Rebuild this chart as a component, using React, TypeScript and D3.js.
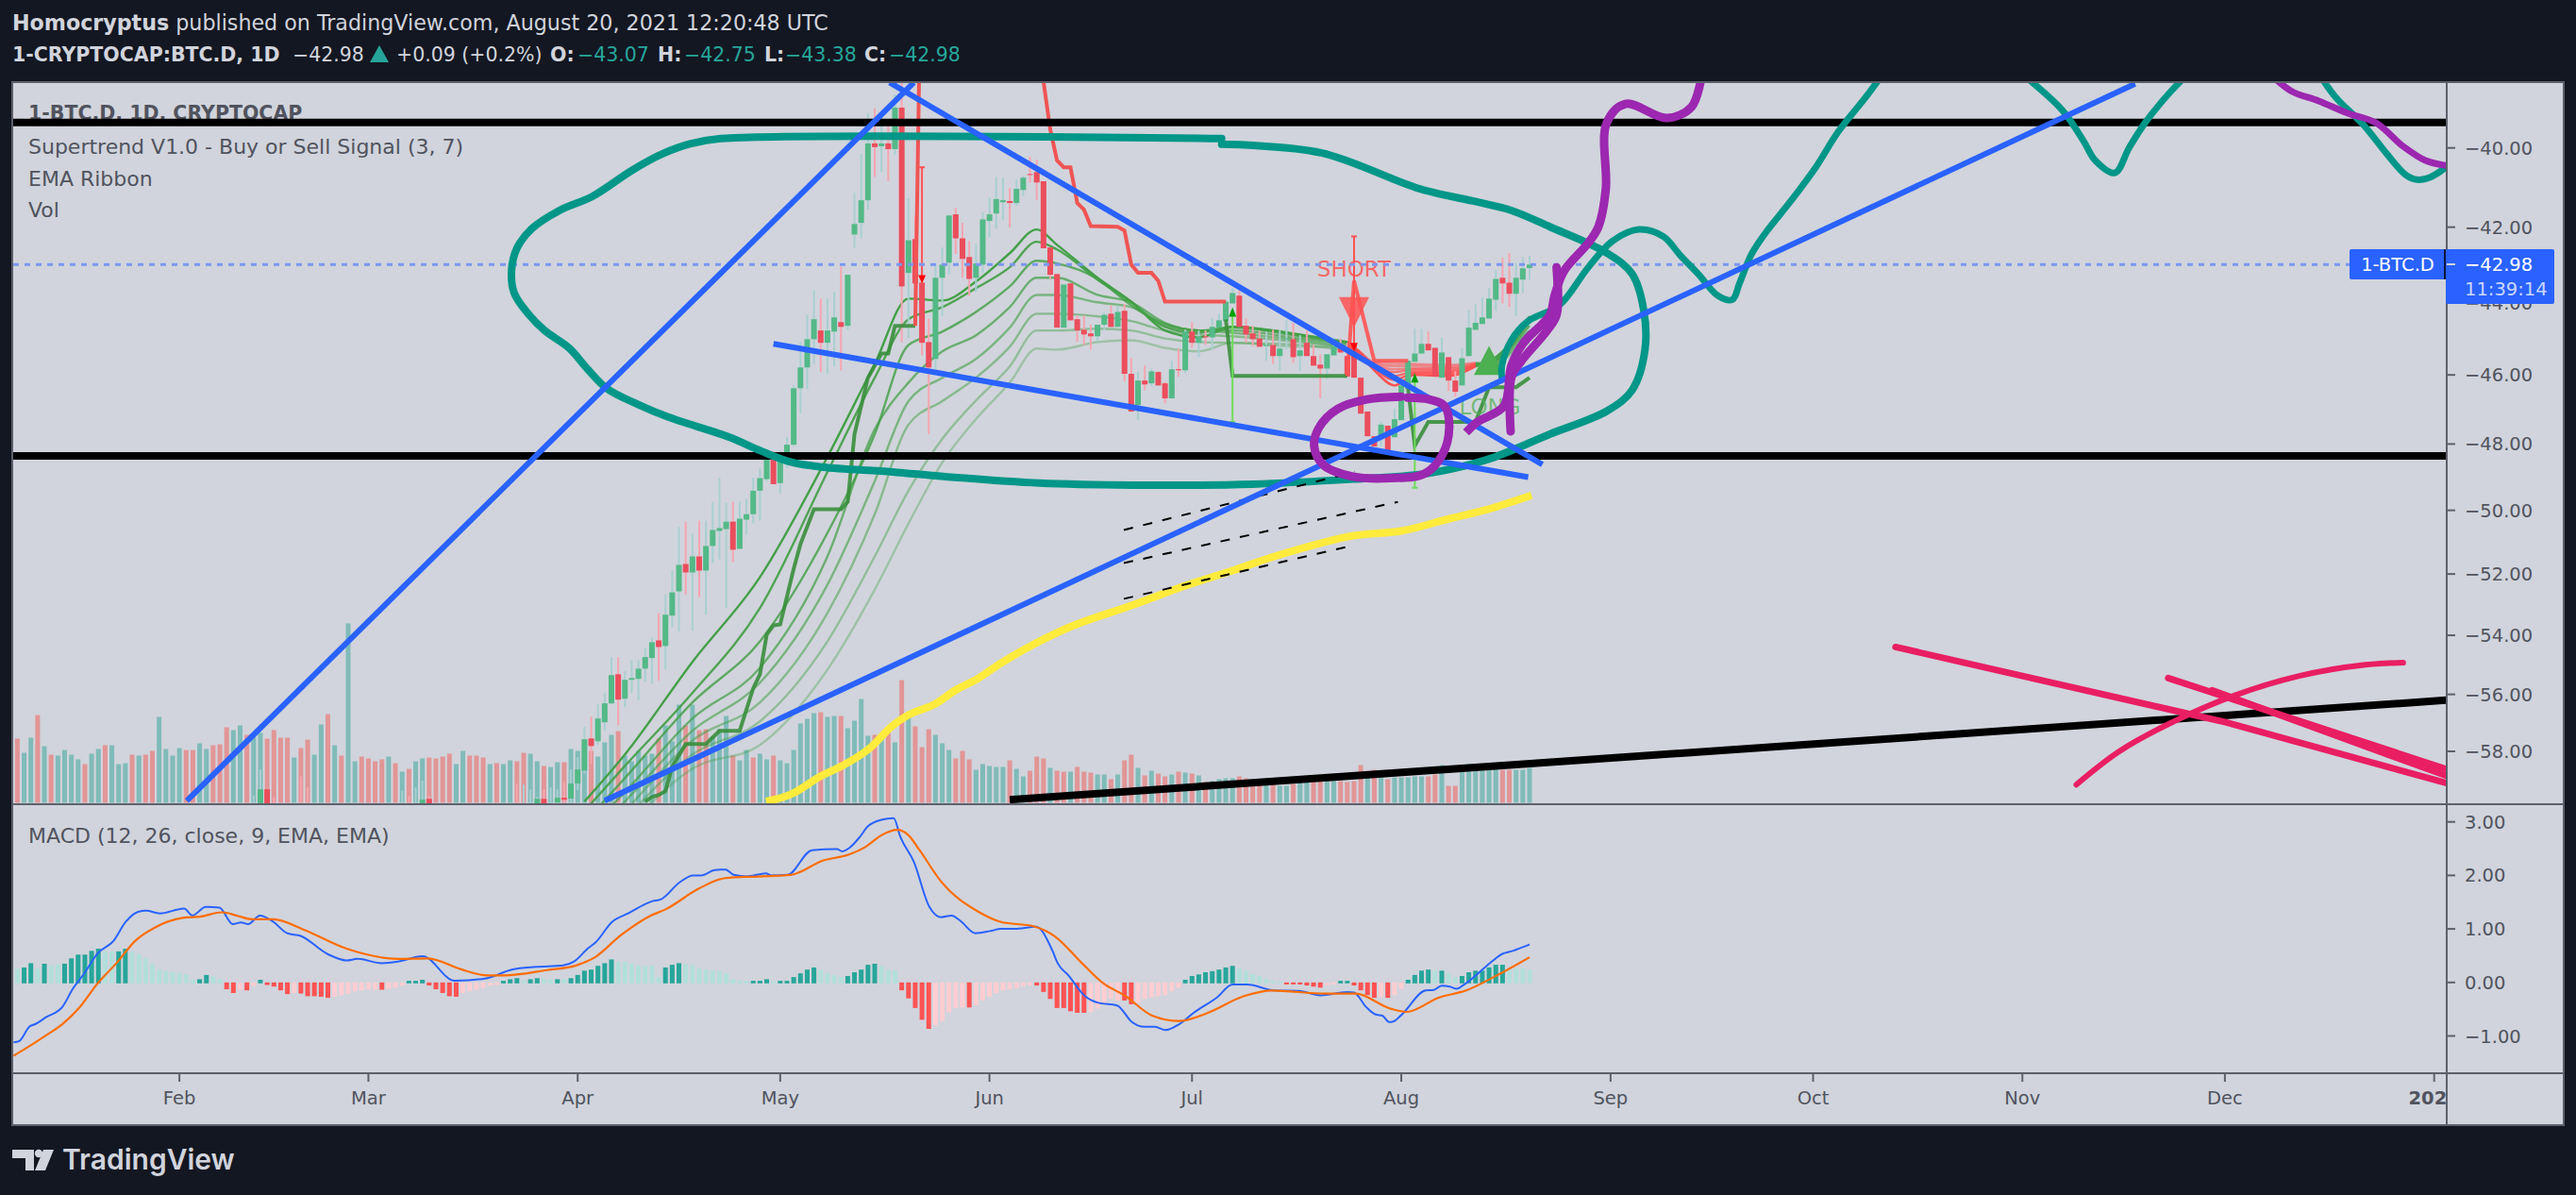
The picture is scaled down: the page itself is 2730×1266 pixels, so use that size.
import React from "react";
import * as d3 from "d3";

// ---------- Axis labels ----------
const priceTicks = [-40, -42, -44, -46, -48, -50, -52, -54, -56, -58];
const macdTicks = [3, 2, 1, 0, -1];
const monthTicks: [string, number][] = [["Feb", 24], ["Mar", 52], ["Apr", 83], ["May", 113], ["Jun", 144], ["Jul", 174], ["Aug", 205], ["Sep", 236], ["Oct", 266], ["Nov", 297], ["Dec", 327], ["2022", 358]];

// ---------- Volume (one bar per day from Jan 8) ----------
const volumes = [68,53,69,93,60,51,50,56,51,46,41,52,57,61,61,41,42,51,50,51,55,91,57,50,58,56,56,63,57,61,62,80,77,82,72,72,74,68,77,69,69,48,58,67,51,83,94,61,50,190,44,49,47,44,46,49,42,33,36,44,47,48,47,49,52,41,55,50,
50,48,41,42,41,45,44,53,52,44,39,38,43,43,57,55,45,55,49,64,72,76,50,44,55,50,52,68,82,65,104,82,104,77,78,70,78,92,50,45,56,48,52,46,50,45,42,56,84,89,95,96,91,92,92,79,87,110,71,72,72,80,64,130,95,81,59,78,72,63,56,47,55,46,35,41,39,38,38,45,36,28,34,49,47,37,34,33,33,38,33,32,30,30,25,30,45,
51,37,29,34,31,28,30,33,32,31,29,22,23,25,26,26,28,26,22,22,22,20,18,18,20,23,23,22,23,27,27,23,22,23,40,30,35,27,25,27,27,27,28,28,28,30,40,18,18,40,41,41,41,41,38,35,35,35,35,37];
const volumeSides = "RGGRGRGGGGRGGRGGGRGRRGGGGRRGGRRRGGRGGRRRR" + "GRRGGRGRGGRRRRGRGRGGRRRRGGR"
  + "RRGRGGRRGG" + "RGGRGGGRGG" + "GRGGGGGRGG" + "GRGRRGGGRG" + "GRGGRGGGGG" + "GRGGRGGGGR" + "GRGRGRRRGG" + "GRRRGGGGGR" + "GGRRRGRRGR" + "RRGGRGR"
  + "RGRGRRGRGR" + "GRGGGGRRRR" + "GRGGRGGRRG" + "GRRRRGRGRG" + "GGGGRRGRRG" + "GGGGGRRGGG";

// ---------- Candles: open, high, low, close, from day index 80 (Mar 29) ----------
const candleFirstDay = 80;
const candleOpen = [-59.85,-59.68,-59.71,-59.16,-58.69,-57.54,-57.64,-56.97,-56.31,-55.31,-56.15,-55.50,-55.47,-55.12,-54.76,-54.17,-54.36,-53.35,-52.56,-51.68,
-51.95,-51.44,-51.89,-51.11,-50.64,-50.58,-50.35,-51.20,-50.29,-50.12,-49.40,-49.05,-48.47,-49.17,-48.47,-48.02,-46.38,-45.79,-45.00,-44.76,
-45.10,-44.79,-44.53,-44.63,-42.19,-41.89,-41.31,-39.89,-39.96,-39.89,-40.03,-39.02,-43.20,-42.31,-43.46,-45.08,-45.55,-43.33,-42.93,-41.67,
-42.29,-42.78,-43.33,-42.98,-41.84,-41.65,-41.36,-41.33,-41.38,-41.05,-40.65,-40.60,-40.83,-42.53,-43.23,-44.68,-43.48,-44.45,-44.74,-44.84,
-44.92,-44.60,-44.30,-44.66,-44.22,-45.97,-46.86,-46.16,-46.24,-45.92,-46.24,-46.67,-45.84,-45.87,-44.79,-45.10,-44.92,-44.95,-44.68,-44.50,
-44.02,-43.81,-44.63,-44.84,-44.98,-45.19,-45.16,-45.47,-45.00,-45.00,-45.47,-45.10,-45.47,-45.71,-45.82,-45.45,-45.26,-45.47,-45.16,-46.08,
-47.05,-47.77,-47.85,-47.46,-47.80,-47.30,-46.40,-45.63,-45.40,-45.13,-45.24,-46.08,-45.50,-46.16,-46.30,-45.47,-44.74,-44.58,-44.43,-43.92,
-43.33,-43.46,-43.76,-43.38,-43.07];
const candleHigh = [-59.37,-59.10,-58.65,-58.21,-57.13,-56.77,-56.34,-55.95,-54.73,-54.73,-55.21,-54.83,-54.83,-54.42,-54.07,-53.26,-52.65,-51.89,-50.52,-50.35,
-50.73,-50.32,-50.32,-49.74,-49.02,-49.77,-49.74,-49.74,-49.65,-49.00,-48.72,-48.21,-48.21,-48.21,-47.80,-46.30,-45.08,-44.33,-43.66,-43.89,
-43.89,-43.71,-43.03,-43.25,-41.12,-40.15,-39.15,-39.04,-39.27,-39.47,-38.70,-38.40,-41.26,-41.72,-43.46,-44.43,-42.98,-42.53,-41.70,-41.50,
-41.89,-42.36,-42.43,-41.62,-41.24,-40.72,-40.74,-41.00,-40.79,-40.69,-40.22,-40.29,-40.83,-42.53,-43.23,-43.51,-43.48,-44.35,-44.35,-44.60,
-44.60,-44.27,-44.07,-44.07,-44.04,-45.53,-45.92,-45.74,-45.82,-45.90,-46.19,-45.60,-45.26,-44.74,-44.53,-44.76,-44.76,-44.43,-44.30,-43.92,
-43.61,-43.66,-44.43,-44.63,-44.76,-44.79,-44.74,-44.76,-44.48,-44.55,-44.89,-44.76,-45.16,-45.42,-45.42,-44.95,-44.98,-45.10,-45.16,-46.08,
-47.05,-47.77,-47.35,-47.46,-46.97,-46.30,-45.55,-44.71,-44.71,-44.79,-45.24,-44.95,-45.50,-45.90,-45.26,-44.20,-44.04,-43.87,-43.61,-43.13,
-42.80,-42.68,-42.93,-42.78,-42.75];
const candleLow = [-59.90,-59.85,-59.90,-59.40,-58.79,-58.45,-57.77,-57.27,-56.34,-57.07,-56.44,-55.95,-56.21,-55.57,-55.63,-55.53,-55.15,-53.73,-53.88,-52.65,
-53.85,-52.74,-53.32,-51.65,-51.53,-53.10,-51.62,-51.20,-50.76,-50.41,-50.32,-49.11,-49.20,-49.48,-48.72,-48.07,-47.11,-46.40,-45.69,-45.92,
-45.97,-45.76,-45.87,-44.74,-42.55,-42.29,-41.55,-40.72,-40.60,-40.83,-40.17,-45.08,-44.98,-44.37,-45.45,-47.71,-45.84,-44.37,-43.25,-42.70,
-43.33,-43.81,-43.71,-43.20,-42.26,-42.04,-41.82,-42.01,-41.45,-41.21,-40.86,-41.31,-42.55,-43.36,-44.68,-44.68,-44.48,-45.08,-45.16,-45.29,
-45.05,-44.76,-44.66,-44.66,-46.19,-47.05,-47.30,-46.43,-46.32,-46.30,-46.81,-46.67,-46.05,-45.95,-45.24,-45.50,-45.16,-45.29,-44.68,-44.50,
-44.02,-44.66,-45.10,-45.19,-45.21,-45.60,-45.69,-45.87,-45.29,-45.66,-45.90,-45.47,-45.74,-46.67,-46.11,-45.45,-45.37,-46.05,-46.08,-47.11,
-47.77,-48.07,-48.07,-48.19,-47.80,-47.30,-46.40,-45.63,-45.40,-45.31,-46.05,-46.08,-46.46,-46.62,-46.30,-45.47,-44.74,-44.58,-44.43,-44.22,
-44.02,-44.12,-44.37,-43.74,-43.38];
const candleClose = [-59.68,-59.75,-59.16,-58.65,-57.57,-57.81,-56.84,-56.31,-55.34,-56.18,-55.50,-55.44,-55.12,-54.73,-54.23,-54.39,-53.32,-52.59,-51.71,-51.95,
-51.44,-51.89,-51.11,-50.61,-50.55,-50.35,-51.23,-50.26,-50.12,-49.40,-49.02,-48.47,-49.20,-48.47,-48.02,-46.38,-45.79,-45.00,-44.45,-45.10,
-44.76,-44.40,-44.66,-43.25,-41.92,-41.31,-39.89,-39.98,-39.89,-40.03,-39.02,-43.56,-42.34,-43.48,-45.10,-45.79,-43.33,-42.98,-41.70,-42.29,
-42.83,-43.36,-42.95,-41.80,-41.67,-41.28,-41.31,-41.38,-41.02,-40.74,-40.67,-40.86,-42.55,-43.25,-44.68,-43.51,-44.48,-44.76,-44.87,-44.92,
-44.60,-44.33,-44.66,-44.25,-45.97,-47.05,-46.16,-46.27,-45.90,-46.30,-46.67,-45.84,-45.87,-44.79,-45.10,-44.92,-44.95,-44.66,-44.48,-43.97,
-43.74,-44.66,-44.87,-45.00,-45.21,-45.16,-45.47,-45.26,-44.98,-45.50,-45.31,-45.47,-45.74,-45.82,-45.42,-45.19,-45.37,-46.05,-46.08,-47.11,
-47.77,-48.07,-47.43,-48.19,-47.27,-46.30,-45.60,-45.40,-45.13,-45.31,-46.05,-45.37,-46.16,-46.48,-45.53,-44.68,-44.55,-44.40,-43.89,-43.36,
-43.48,-43.76,-43.33,-43.08,-42.98];

// Candles that sit below the pane, only their top edge or wick showing
const earlyDays = [35,36,37,38,42,43,57,58,59,60,61,74,75,76,77,78,79];
const earlySides = "GGRRRRGRGGRRGGGRG";
const earlyHigh = [-59.60,-58.65,-59.37,-59.65,-58.90,-59.30,-59.42,-59.62,-59.30,-59.05,-59.62,-59.16,-59.20,-59.37,-59.65,-59.37,-59.30];
const earlyTop = [-61,-59.37,-59.37,-61,-61,-61,-61,-61,-61,-59.75,-59.72,-61,-61,-61,-59.72,-59.72,-61];

// ---------- EMA ribbon, sampled on ribbonDays ----------
const ribbonDays = [84,90,100,110,120,127,132,137,142,147,151,154,160,165,170,175,180,190,197,198,201,204,207,212,216,219,222,224];
const ribbon1 = [-59.82,-58.11,-54.89,-52.10,-48.38,-45.69,-43.89,-43.94,-43.43,-42.68,-42.06,-42.46,-43.33,-43.97,-44.76,-44.95,-44.66,-44.87,-45.08,-45.24,-45.87,-46.30,-46.00,-46.03,-45.76,-45.50,-44.92,-44.37];
const ribbon2 = [-60.17,-58.52,-55.95,-53.10,-48.83,-46.08,-44.45,-44.12,-43.61,-43.05,-42.38,-42.58,-43.38,-43.99,-44.66,-44.82,-44.66,-44.89,-45.08,-45.24,-45.82,-46.14,-45.95,-45.97,-45.74,-45.55,-44.98,-44.50];
const ribbon3 = [-60.60,-58.96,-56.28,-54.20,-50.70,-47.71,-45.16,-44.79,-44.25,-43.56,-42.88,-42.95,-43.36,-44.07,-44.58,-44.76,-44.68,-44.92,-45.10,-45.24,-45.76,-46.03,-45.90,-45.92,-45.71,-45.58,-45.03,-44.63];
const ribbon4 = [-61.00,-59.47,-56.84,-55.09,-51.44,-47.57,-46.22,-45.34,-44.89,-44.12,-43.33,-43.33,-43.79,-43.99,-44.55,-44.76,-44.76,-44.98,-45.13,-45.24,-45.74,-45.92,-45.84,-45.87,-45.71,-45.60,-45.08,-44.76];
const ribbon5 = [-61.40,-59.82,-57.27,-55.60,-52.34,-49.11,-46.75,-46.08,-45.55,-44.68,-43.79,-43.79,-43.99,-44.12,-44.63,-44.76,-44.82,-45.03,-45.19,-45.24,-45.71,-45.84,-45.82,-45.82,-45.69,-45.63,-45.13,-44.87];
const ribbon6 = [-61.70,-60.17,-57.61,-56.28,-53.26,-50.12,-47.43,-46.75,-46.08,-45.21,-44.30,-44.30,-44.37,-44.50,-44.76,-44.87,-44.92,-45.08,-45.24,-45.26,-45.69,-45.76,-45.76,-45.79,-45.69,-45.66,-45.19,-44.95];
const ribbon7 = [-62.30,-60.50,-58.11,-56.94,-54.20,-51.44,-49.40,-47.85,-46.73,-45.76,-44.76,-44.76,-44.71,-44.76,-44.98,-45.08,-45.10,-45.16,-45.31,-45.26,-45.66,-45.71,-45.71,-45.74,-45.66,-45.69,-45.24,-45.03];
const ribbon8 = [-62.80,-60.90,-58.62,-57.77,-55.15,-52.50,-50.41,-48.55,-47.27,-46.22,-45.26,-45.29,-45.08,-45.03,-45.24,-45.34,-45.10,-45.21,-45.21,-45.29,-45.63,-45.66,-45.69,-45.71,-45.66,-45.71,-45.29,-45.10];

// ---------- Supertrend ----------
const stGreenADays = [93,94,95,96,97,99,102,104,107,109,110,111,112,113,115,116,118,122,123,124,126,128,129,130,133];
const stGreenAPrices = [-59.82,-59.65,-59.58,-59.44,-58.55,-57.74,-57.74,-57.27,-57.27,-55.79,-55.31,-53.98,-53.67,-53.64,-51.83,-51.05,-49.97,-49.97,-49.74,-47.71,-46.08,-45.40,-45.40,-44.63,-44.63];
const stRedADays = [133,133.6,150,152,153,154,155,156,157,158,159,163,164,165,166,168,169,170,179];
const stRedAPrices = [-44.63,-38.0,-36,-38.40,-39.55,-40.31,-40.48,-40.48,-41.38,-41.55,-41.97,-41.99,-42.09,-42.98,-43.20,-43.20,-43.41,-43.97,-43.97];
const stGreenBDays = [179,180,197];
const stGreenBPrices = [-44.46,-46.03,-46.03];
const stRedBDays = [197,198,201,206];
const stRedBPrices = [-46.03,-43.41,-45.60,-45.60];
const stGreenCDays = [206,207,209,216,218,222,224];
const stGreenCPrices = [-46.38,-48.05,-47.35,-47.35,-46.35,-46.35,-46.08];

// Supertrend signals
const signalRedDays = [134,198];
const signalRedTop = [-40.48,-42.24];
const signalRedBottom = [-43.36,-45.21];
const signalGreenDays = [180,207];
const signalGreenTop = [-44.25,-46.08];
const signalGreenBottom = [-47.35,-49.31];

// ---------- MACD ----------
const macdHist = [.26,.28,.36,.26,.35,.32,.34,.35,.45,.52,.52,.59,.63,.58,.58,.58,.63,.57,.53,.45,.35,.24,.21,.20,.18,.15,.05,.06,.14,.11,.06,-.11,-.18,-.12,-.13,-.05,.05,-.03,-.06,-.13,-.20,-.18,-.19,-.24,-.24,-.25,-.27,-.25,-.22,-.20,-.15,-.13,-.11,-.12,-.12,-.10,-.08,-.04,.03,.03,.05,-.04,-.11,-.18,-.24,-.25,-.18,-.15,-.12,-.09,-.04,-.03,.03,.06,.08,.03,.06,.08,.06,.06,.06,.06,.08,.14,.22,.24,.31,.36,.43,.39,.38,.35,.32,.31,.31,.10,.28,.33,.36,.35,.33,.26,.24,.22,.21,.17,.06,.03,.03,.03,.03,.06,.02,.03,.03,.10,.17,.24,.28,.24,.17,.14,.10,.12,.19,.24,.33,.35,.31,.24,.22,-.13,-.28,-.46,-.68,-.85,-.78,-.70,-.54,-.46,-.45,-.45,-.41,-.32,-.25,-.18,-.13,-.11,-.09,-.06,-.04,-.04,-.16,-.29,-.46,-.46,-.52,-.55,-.55,-.54,-.47,-.38,-.29,-.32,-.32,-.39,-.36,-.29,-.26,-.24,-.22,-.15,-.08,.05,.12,.15,.19,.21,.24,.28,.31,.26,.21,.15,.12,.06,.03,.02,-.02,-.02,-.02,-.04,-.06,-.08,-.04,-.02,.03,.03,-.04,-.13,-.22,-.27,-.25,-.27,-.22,-.10,.05,.14,.22,.24,.22,.22,.17,.10,.12,.19,.22,.22,.28,.33,.33,.26,.26,.26,.24];
const macdHistKinds = ["pggpgppg","ggggg","pp","gg","pppppppppp","gg","pp","rrsrsg","rrrr","s","rrrrr","sssssss","r","sss","ggg","rrrrr","ssssss","ggg","p","gg","pp","g","p","ggggggg","ppppppp","ggg","pppppppppp","ggg","p","gggggg","pppp","ggggg","ppp","rrrrr","sssss","r","sssssssss","rrrrrrrr","sssss","rr","sssssss","gggggggg","ppppppp","rrrrrr","ss","gg","rrrr","s","r","ss","gggg","p","g","pp","ggggggg","pppp"].join("");
const macdLineDays = [-.56,.24,1.84,2.64,4.25,6.65,8.26,9.86,11.87,14.27,16.04,17.89,19.09,21.09,24.7,25.91,27.91,29.92,31.92,33.13,34.17,35.94,37.94,39.95,41.95,45.96,48.77,50.37,54,56.39,60,64.81,69.22,73.24,76.85,80.86,82.46,84.47,85.67,88.08,90.48,94.1,95.3,98.1,100.1,101.3,103.3,104.9,106.1,108.1,110.9,111.7,114.1,117.7,121.4,122.2,123.2,124.8,126,128,129.8,130.8,132.8,135.1,136.8,138.4,139.6,141.9,144.1,145.7,147.7,150.9,153.3,154.1,155.7,158.1,160.1,162.9,165.1,166.9,168.5,170.1,172.1,174.1,177.7,180,182.2,186.2,189.8,193,197,198,199.8,201.2,202.2,203.2,203.8,205,208.6,209.8,211,212.2,213.2,214.2,218.7,219.9,221.5,224];
const macdLineValues = [-1.12,-1.10,-.82,-.78,-.65,-.46,-.11,.16,.54,.78,1.13,1.32,1.34,1.29,1.38,1.25,1.41,1.40,1.09,1.12,1.09,1.25,1.13,.92,.87,.53,.41,.44,.36,.39,.49,.03,.07,.24,.29,.32,.39,.63,.75,1.13,1.29,1.52,1.55,1.87,2.00,2.00,2.10,2.11,2.01,1.98,2.04,2.00,2.01,2.47,2.49,2.45,2.51,2.72,2.92,3.04,3.07,2.72,2.25,1.41,1.22,1.25,1.16,.92,.96,1.00,1.00,1.04,.60,.36,.13,-.25,-.38,-.43,-.74,-.83,-.83,-.89,-.78,-.58,-.28,-.04,-.04,-.15,-.16,-.24,-.18,-.19,-.46,-.60,-.62,-.74,-.73,-.61,-.15,-.14,-.06,-.08,-.12,-.05,.42,.53,.59,.71];
const signalLineDays = [-.56,1.04,4.25,6.65,9.06,11.87,14.68,17.48,20.29,24.7,27.11,30.32,32.73,34.73,37.94,42.35,48.77,56.39,60.8,65.62,69.63,72.03,78.45,82.86,85.67,89.28,93.69,96.1,100.9,104.9,109.7,114.6,119.4,123.2,125.6,128,130.3,132,133.6,136.8,142.5,145.7,150.5,153.7,157.7,160.9,164.1,168.1,172.1,176.1,181.8,185.8,193.8,198.2,203.4,205.8,210.6,214.6,218.7,224];
const signalLineValues = [-1.37,-1.25,-.99,-.78,-.49,-.02,.36,.78,1.02,1.21,1.23,1.31,1.24,1.18,1.18,.99,.63,.44,.45,.25,.13,.13,.23,.32,.48,.87,1.24,1.37,1.75,1.95,1.98,2.01,2.28,2.39,2.53,2.75,2.85,2.75,2.48,1.89,1.31,1.13,1.05,.86,.36,-.02,-.25,-.62,-.72,-.58,-.25,-.15,-.21,-.21,-.49,-.55,-.28,-.15,.10,.47];

// ---------- Hand drawings, in day index and price ----------
const blueLines: [number, number, number, number][] = [
  [25.1,-59.79,132.8,-38.42],[129.2,-38.42,225.9,-48.61],[112,-45.13,223.8,-48.99],[87,-59.79,313.7,-38.45],
];
const blackSlope = [147,-59.75,359.8,-56.2];
const blackLevels = [-39.38,-48.35];
const yellowDays = [110.9,114.7,119,122.2,126,129.6,132.1,135.9,139,142.2,145.8,150.9,156.5,165.1,173.5,180,187.1,197.8,205,212.1,217.8,224.3];
const yellowPrices = [-59.82,-59.54,-58.89,-58.52,-57.94,-57.1,-56.7,-56.34,-55.85,-55.47,-54.92,-54.26,-53.67,-53.01,-52.34,-51.89,-51.38,-50.79,-50.64,-50.26,-49.97,-49.54];
const dashLines: [number, number, number, number][] = [
  [163.9,-50.61,198.1,-48.83],[163.9,-51.65,204.5,-49.74],[163.9,-52.8,198.1,-51.08],
];
const tealLoopDays = [178.4,104.3,99.9,95.5,91.1,85.2,80.3,76.2,74,73.2,73.6,75.8,78.1,81.7,84.4,87.4,91.9,96.4,105.5,110.2,114.8,119.4,129.6,137.2,151.4,165.1,182.9,197.8,208.4,217.6,227,235.5,239.2,241.1,240.9,239.2,235.5,227,221.3,215.6,207.7,193.1,178.4];
const tealLoopPrices = [-39.77,-39.77,-39.89,-40.15,-40.55,-41.21,-41.57,-42.04,-42.55,-43.15,-43.74,-44.33,-44.76,-45.24,-45.82,-46.4,-46.84,-47.21,-47.8,-48.21,-48.55,-48.69,-48.83,-48.97,-49.17,-49.23,-49.2,-49.05,-48.89,-48.47,-47.71,-47.03,-46.43,-45.29,-44.19,-43.23,-42.68,-41.99,-41.57,-41.33,-41.02,-40.12,-39.91];
const tealTwoDays = [219.9,219.9,221.3,223.8,228.4,232.7,236.3,240.2,243.8,246.3,249,251.9,254,255.1,256.8,258.9,262.7,266.4,269.7,273.8,276.2];
const tealTwoPrices = [-46.08,-45.74,-45.03,-44.5,-44.07,-43.05,-42.36,-42.06,-42.24,-42.73,-43.23,-43.81,-43.92,-43.48,-42.73,-42.16,-41.33,-40.48,-39.61,-38.77,-38.25];
const tealThreeDays = [297.2,302.9,306.1,307.8,310.7,312.8,315.2,319,321.6];
const tealThreePrices = [-38.25,-39.08,-39.84,-40.31,-40.62,-40,-39.38,-38.63,-38.21];
const tealFourDays = [340.9,343.4,347.6,351,353.8,355.5,357.5,359.6];
const tealFourPrices = [-38.21,-38.77,-39.45,-40.15,-40.67,-40.79,-40.72,-40.5];
const purpleADays = [249.5,248,244.3,238.2,235.4,235.3,234.2,232.7,229.1,227.7,227,223.1,221.3,220.2,216.3,214.6];
const purpleAPrices = [-38.25,-39,-39.27,-38.93,-39.4,-41.02,-41.99,-42.41,-43.15,-43.81,-44.33,-45.1,-45.74,-46.89,-47.35,-47.66];
const purpleBDays = [228,228,226.6,222.7,221.3,221.2];
const purpleBPrices = [-43.05,-44.33,-44.76,-45.63,-46.08,-47.63];
const purpleCircleDays = [205,199.9,195.6,192.8,192.1,193.5,197.8,203.4,208.4,211,212.1,211.4,209.1,205.9];
const purpleCirclePrices = [-46.62,-46.7,-46.97,-47.52,-48.07,-48.63,-48.97,-49.02,-48.89,-48.35,-47.52,-46.89,-46.7,-46.65];
const purpleRightDays = [333.9,336.9,340.9,345.1,349.3,353.4,356.7,359.6];
const purpleRightPrices = [-38.25,-38.63,-38.86,-39.15,-39.38,-39.96,-40.31,-40.43];
const pinkADays = [278.2,327.1,359.6];
const pinkAPrices = [-54.39,-56.97,-59.13];
const pinkBDays = [318.6,359.6];
const pinkBPrices = [-55.44,-58.62];
const pinkCDays = [325.1,359.6];
const pinkCPrices = [-55.86,-58.86];
const pinkArcDays = [305,311.3,318.6,328.3,338,347.8,353.4];
const pinkArcPrices = [-59.2,-58.01,-57.04,-56.05,-55.37,-54.99,-54.92];

// ---------- Scales ----------
const x = d3.scaleLinear().domain([0, 224]).range([18.4, 1621]);
const y = d3.scaleLog().domain([-40, -58]).range([156.7, 796]);
const vol = d3.scaleLinear().domain([0, 190]).range([850.5, 660.5]);
const macd = d3.scaleLinear().domain([-1, 3]).range([1097.5, 870.7]);

const UP = "#53b987", DOWN = "#eb4d5c", UPW = "#a9cfd1", DOWNW = "#f5a5b0";
const TEAL = "#009688", PURPLE = "#9c27b0", BLUE = "#2962ff", PINK = "#e91e63";
const AXIS = "#5d606b", LABEL = "#50535e";
const FONT = "'DejaVu Sans', sans-serif";

const pt = (d: number, p: number) => [x(d), y(p)] as [number, number];
const free = d3.line().curve(d3.curveCatmullRom.alpha(0.5));
const straight = d3.line();
const path = (days: number[], prices: number[], g = free) => g(days.map((d, i) => pt(d, prices[i]))) as string;
const mono = d3.line().curve(d3.curveMonotoneX);
const mpath = (days: number[], vals: number[]) => mono(days.map((d, i) => [x(d), macd(vals[i])] as [number, number])) as string;

const ribbons = [ribbon1, ribbon2, ribbon3, ribbon4, ribbon5, ribbon6, ribbon7, ribbon8];
const ribbonAlpha = [1, 0.92, 0.82, 0.72, 0.62, 0.52, 0.44, 0.36];
const histColor: Record<string, string> = { g: "#26a69a", p: "#b2dfdb", r: "#ff5252", s: "#ffcdd2" };

function Candle({ d, o, h, l, c }: { d: number; o: number; h: number; l: number; c: number }) {
  const up = c >= o;
  const top = y(Math.max(o, c)), bot = y(Math.min(o, c));
  return (
    <g>
      <rect x={x(d) - 1} y={y(h)} width={2} height={Math.max(0, y(l) - y(h))} fill={up ? UPW : DOWNW} />
      <rect x={x(d) - 3} y={top} width={6} height={Math.max(1, bot - top)} fill={up ? UP : DOWN} />
    </g>
  );
}

export default function App() {
  const headerRest: [string, number, string, boolean][] = [
    ["\u221242.98", 310, "#d1d4dc", false], ["+0.09 (+0.2%)", 420, "#d1d4dc", false],
    ["O:", 583, "#d1d4dc", true], ["\u221243.07", 612, "#26a69a", false],
    ["H:", 697, "#d1d4dc", true], ["\u221242.75", 725, "#26a69a", false],
    ["L:", 810, "#d1d4dc", true], ["\u221243.38", 832, "#26a69a", false],
    ["C:", 916, "#d1d4dc", true], ["\u221242.98", 942, "#26a69a", false],
  ];
  return (
    <svg width={2730} height={1266} style={{ position: "absolute", left: 0, top: 0, display: "block" }} fontFamily={FONT}>
      <defs>
        <clipPath id="pane"><rect x={14} y={88} width={2578} height={763} /></clipPath>
        <clipPath id="timeaxis"><rect x={14} y={1138} width={2578} height={54} /></clipPath>
      </defs>
      <rect width={2730} height={1266} fill="#131722" />
      <rect x={13} y={87} width={2704} height={1105} fill="#d1d4dc" stroke={AXIS} strokeWidth={2} />
      <line x1={13} x2={2717} y1={852} y2={852} stroke={AXIS} strokeWidth={2} />
      <line x1={13} x2={2717} y1={1137} y2={1137} stroke={AXIS} strokeWidth={2} />
      <line x1={2593} x2={2593} y1={87} y2={1192} stroke={AXIS} strokeWidth={2} />

      {/* header */}
      <text x={13} y={32} fontSize={22.2} fill="#d1d4dc"><tspan fontWeight="bold">Homocryptus</tspan> published on TradingView.com, August 20, 2021 12:20:48 UTC</text>
      <text x={13} y={65} fontSize={20.5} fontWeight="bold" fill="#d1d4dc">1-CRYPTOCAP:BTC.D, 1D</text>
      {headerRest.map(([t, px, col, b], i) => (
        <text key={i} x={px} y={65} fontSize={20.5} fill={col} fontWeight={b ? "bold" : "normal"}>{t}</text>
      ))}
      <polygon points="402,48 392,66 412,66" fill="#26a69a" />

      <g clipPath="url(#pane)">
        {/* volume */}
        {volumes.map((v, i) => (
          <rect key={i} x={x(i) - 2.5} y={vol(v)} width={5} height={vol(0) - vol(v)} fill={volumeSides[i] === "G" ? "#7fbbb9" : "#e29596"} />
        ))}
        {/* ribbon */}
        {ribbons.map((r, k) => {
          const pts = ribbonDays.map((d, i) => pt(d, r[i]));
          return (
            <g key={k} fill="none" strokeWidth={2.4} strokeOpacity={ribbonAlpha[k]}>
              <path d={mono(pts.slice(0, 19)) as string} stroke="#43a047" />
              <path d={mono(pts.slice(18, 25)) as string} stroke="#ff5252" />
              <path d={mono(pts.slice(24)) as string} stroke="#43a047" />
            </g>
          );
        })}
        {/* candles */}
        {earlyDays.map((d, i) => {
          const up = earlySides[i] === "G";
          return (
            <g key={d}>
              <rect x={x(d) - 1} y={y(earlyHigh[i])} width={2} height={860 - y(earlyHigh[i])} fill={up ? UPW : DOWNW} />
              <rect x={x(d) - 3} y={y(earlyTop[i])} width={6} height={860 - y(earlyTop[i])} fill={up ? UP : DOWN} />
            </g>
          );
        })}
        {candleOpen.map((o, i) => (
          <Candle key={i} d={candleFirstDay + i} o={o} h={candleHigh[i]} l={candleLow[i]} c={candleClose[i]} />
        ))}
        {/* supertrend */}
        <g fill="none" strokeWidth={4}>
          <path d={path(stGreenADays, stGreenAPrices, straight)} stroke="#388e3c" strokeOpacity={0.9} />
          <path d={path(stRedADays, stRedAPrices, straight)} stroke="#f05454" />
          <path d={path(stGreenBDays, stGreenBPrices, straight)} stroke="#388e3c" strokeOpacity={0.9} />
          <path d={path(stRedBDays, stRedBPrices, straight)} stroke="#ff5252" strokeOpacity={0.9} />
          <path d={path(stGreenCDays, stGreenCPrices, straight)} stroke="#388e3c" strokeOpacity={0.9} />
        </g>
        {signalRedDays.map((d, i) => (
          <g key={d} stroke="#ff5252" strokeWidth={2}>
            <line x1={x(d)} x2={x(d)} y1={y(signalRedTop[i])} y2={y(signalRedBottom[i])} />
            <line x1={x(d) - 3} x2={x(d) + 3} y1={y(signalRedTop[i])} y2={y(signalRedTop[i])} />
            <polygon points={`${x(d) - 4},${y(signalRedBottom[i]) - 4} ${x(d) + 4},${y(signalRedBottom[i]) - 4} ${x(d)},${y(signalRedBottom[i]) + 5}`} fill="#ff0000" stroke="none" />
          </g>
        ))}
        {signalGreenDays.map((d, i) => (
          <g key={d} stroke="#6fdc5a" strokeWidth={2}>
            <line x1={x(d)} x2={x(d)} y1={y(signalGreenTop[i])} y2={y(signalGreenBottom[i])} />
            <line x1={x(d) - 3} x2={x(d) + 3} y1={y(signalGreenBottom[i])} y2={y(signalGreenBottom[i])} />
            <polygon points={`${x(d) - 4},${y(signalGreenTop[i]) + 5} ${x(d) + 4},${y(signalGreenTop[i]) + 5} ${x(d)},${y(signalGreenTop[i]) - 5}`} fill="#00a000" stroke="none" />
          </g>
        ))}
        <polygon points={`${x(198) - 16},${y(-43.85)} ${x(198) + 16},${y(-43.85)} ${x(198)},${y(-44.68)}`} fill="#ff5252" fillOpacity={0.85} />
        <text x={x(198)} y={y(-43.3)} textAnchor="middle" fontSize={23} fill="#ff5252" fillOpacity={0.85}>SHORT</text>
        <polygon points={`${x(218)},${y(-45.19)} ${x(218) - 16},${y(-46)} ${x(218) + 16},${y(-46)}`} fill="#4caf50" />
        <text x={1579} y={y(-47.12)} textAnchor="middle" fontSize={23} fill="#4caf50" fillOpacity={0.7}>LONG</text>
        {/* last price */}
        <line x1={14} x2={2490} y1={y(-42.98)} y2={y(-42.98)} stroke="#7b96ee" strokeWidth={3} strokeDasharray="6 6" />
      </g>

      {/* legend */}
      <g fontSize={22} fill={LABEL}>
        <text x={30} y={127} fontSize={20.5} fontWeight="bold">1-BTC.D, 1D, CRYPTOCAP</text>
        <text x={30} y={163}>Supertrend V1.0 - Buy or Sell Signal (3, 7)</text>
        <text x={30} y={197}>EMA Ribbon</text>
        <text x={30} y={230}>Vol</text>
        <text x={30} y={893}>MACD (12, 26, close, 9, EMA, EMA)</text>
      </g>

      {/* drawings */}
      <g clipPath="url(#pane)" fill="none" strokeLinecap="round">
        {blackLevels.map((p) => <line key={p} x1={14} x2={2592} y1={y(p)} y2={y(p)} stroke="#000" strokeWidth={8} strokeLinecap="butt" />)}
        <line x1={x(blackSlope[0])} y1={y(blackSlope[1])} x2={x(blackSlope[2])} y2={y(blackSlope[3])} stroke="#000" strokeWidth={8} strokeLinecap="butt" />
        <path d={path(tealLoopDays, tealLoopPrices)} stroke={TEAL} strokeWidth={8} />
        <path d={path(tealTwoDays, tealTwoPrices)} stroke={TEAL} strokeWidth={7} />
        <path d={path(tealThreeDays, tealThreePrices)} stroke={TEAL} strokeWidth={7} />
        <path d={path(tealFourDays, tealFourPrices)} stroke={TEAL} strokeWidth={7} />
        <path d={path(yellowDays, yellowPrices)} stroke="#ffeb3b" strokeWidth={8} strokeLinecap="butt" />
        {dashLines.map((l, i) => (
          <line key={i} x1={x(l[0])} y1={y(l[1])} x2={x(l[2])} y2={y(l[3])} stroke="#000" strokeWidth={2} strokeDasharray="10 11" strokeLinecap="butt" />
        ))}
        {blueLines.map((l, i) => (
          <line key={i} x1={x(l[0])} y1={y(l[1])} x2={x(l[2])} y2={y(l[3])} stroke={BLUE} strokeWidth={6} strokeLinecap="butt" />
        ))}
        <path d={path(purpleADays, purpleAPrices)} stroke={PURPLE} strokeWidth={9} strokeLinecap="butt" />
        <path d={path(purpleBDays, purpleBPrices)} stroke={PURPLE} strokeWidth={9} />
        <path d={path(purpleCircleDays, purpleCirclePrices)} stroke={PURPLE} strokeWidth={9} />
        <path d={path(purpleRightDays, purpleRightPrices)} stroke={PURPLE} strokeWidth={7} />
        <path d={path(pinkADays, pinkAPrices, straight)} stroke={PINK} strokeWidth={7} />
        <path d={path(pinkBDays, pinkBPrices, straight)} stroke={PINK} strokeWidth={7} />
        <path d={path(pinkCDays, pinkCPrices, straight)} stroke={PINK} strokeWidth={7} />
        <path d={path(pinkArcDays, pinkArcPrices)} stroke={PINK} strokeWidth={6} />
      </g>

      {/* MACD */}
      {macdHist.map((v, i) => (
        <rect key={i} x={x(i) - 2.5} y={v >= 0 ? macd(v) : macd(0)} width={5} height={Math.abs(macd(v) - macd(0)) + 1} fill={histColor[macdHistKinds[i]]} />
      ))}
      <path d={mpath(macdLineDays, macdLineValues)} fill="none" stroke={BLUE} strokeWidth={2} />
      <path d={mpath(signalLineDays, signalLineValues)} fill="none" stroke="#ff6d00" strokeWidth={2.2} />

      {/* price axis */}
      {priceTicks.map((p) => (
        <g key={p}>
          <line x1={2593} x2={2602} y1={y(p)} y2={y(p)} stroke={AXIS} strokeWidth={2} />
          <text x={2612} y={y(p) + 7} fontSize={19.5} fill={LABEL}>{"\u2212" + Math.abs(p).toFixed(2)}</text>
        </g>
      ))}
      {macdTicks.map((m) => (
        <g key={m}>
          <line x1={2593} x2={2602} y1={macd(m)} y2={macd(m)} stroke={AXIS} strokeWidth={2} />
          <text x={2612} y={macd(m) + 7} fontSize={19.5} fill={LABEL}>{(m < 0 ? "\u2212" : "") + Math.abs(m).toFixed(2)}</text>
        </g>
      ))}
      {/* time axis */}
      {monthTicks.map(([t, d]) => (
        <line key={t} x1={x(d)} x2={x(d)} y1={1137} y2={1146} stroke={AXIS} strokeWidth={2} />
      ))}
      <g clipPath="url(#timeaxis)">
        {monthTicks.map(([t, d]) => (
          <text key={t} x={x(d)} y={1170} textAnchor="middle" fontSize={19.5} fill={LABEL} fontWeight={t === "2022" ? "bold" : "normal"}>{t}</text>
        ))}
      </g>

      {/* price badges */}
      <rect x={2490} y={264} width={102} height={32} rx={2} fill={BLUE} />
      <rect x={2592} y={264} width={115} height={58} rx={2} fill={BLUE} />
      <line x1={2591} x2={2591} y1={264} y2={296} stroke="#000" strokeWidth={1.5} />
      <line x1={2593} x2={2602} y1={280} y2={280} stroke="#d1d4dc" strokeWidth={2} />
      <text x={2541} y={287} textAnchor="middle" fontSize={19.5} fill="#fff">1-BTC.D</text>
      <text x={2612} y={287} fontSize={19.5} fill="#fff">{"\u221242.98"}</text>
      <text x={2612} y={313} fontSize={19.5} fill="#c9d6ff">11:39:14</text>

      {/* TradingView mark */}
      <g fill="#d1d4dc">
        <polygon points="13,1218 36,1218 36,1240 27,1240 27,1227 13,1227" />
        <circle cx={41} cy={1222} r={4.2} />
        <polygon points="46,1218 57,1218 48,1240 37,1240" />
        <text x={66} y={1239} fontSize={30} fontFamily="Inter, sans-serif" fontWeight={600}>TradingView</text>
      </g>
    </svg>
  );
}
